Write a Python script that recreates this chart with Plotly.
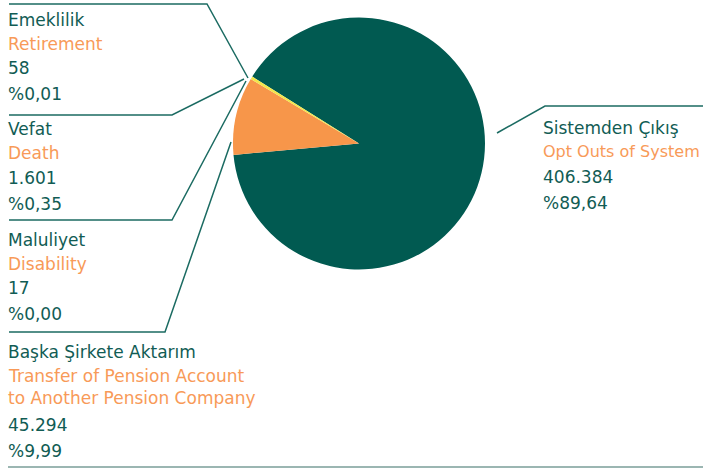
import plotly.graph_objects as go

# ---- data ----
labels_tr = ["Sistemden Çıkış", "Başka Şirkete Aktarım", "Vefat", "Maluliyet", "Emeklilik"]
labels_en = [
    ["Opt Outs of System"],
    ["Transfer of Pension Account", "to Another Pension Company"],
    ["Death"],
    ["Disability"],
    ["Retirement"],
]
values = [406384, 45294, 1601, 17, 58]

total = sum(values)


def fmt_int(v):
    return f"{v:,}".replace(",", ".")


def fmt_pct(v):
    return "%" + f"{100 * v / total:.2f}".replace(".", ",")


value_text = [fmt_int(v) for v in values]
pct_text = [fmt_pct(v) for v in values]

# ---- style / layout ----
W, H = 703, 468
GREEN = "#015a51"
ORANGE = "#f7964a"
TXT_GREEN = "#115c54"
TXT_ORANGE = "#f89a58"
LINE = "#1b6b62"
slice_colors = [GREEN, ORANGE, "#f3e64a", "#e8d840", "#f0e050"]

cx, cy, r = 359, 143.5, 126


def px(x):
    return x / W


def py(y):
    return 1 - y / H


fig = go.Figure()
fig.add_trace(go.Pie(
    labels=labels_tr,
    values=values,
    sort=False,
    direction="clockwise",
    rotation=302.1,
    marker=dict(colors=slice_colors, line=dict(width=0)),
    textinfo="none",
    hoverinfo="label+value+percent",
    showlegend=False,
    domain=dict(x=[px(cx - r), px(cx + r)], y=[py(cy + r), py(cy - r)]),
))

# label block anchor (x, y of first line) per slice, in pixels
block_pos = [(541, 128), (6, 352), (6, 129), (6, 240), (6, 20)]
# English line font size per block (right block is narrower to fit)
en_size = [16, 17, 17, 17, 17]
# gap after English lines before the value line
val_gap = [25, 27, 25, 24, 24]
# leader line paths per slice, in pixels
leaders = [
    [(497, 133), (545, 106), (703, 106)],
    [(231, 142), (165, 332), (9, 332)],
    [(244, 79), (172, 115), (9, 115)],
    [(246, 81), (172, 220), (9, 220)],
    [(248, 78), (207, 4), (9, 4)],
]

FONT = "DejaVu Sans"
FS = 17
annotations = []
shapes = []
for i in range(len(values)):
    x0, y0 = block_pos[i]
    lines = [(labels_tr[i], TXT_GREEN, 0, FS)]
    y = 0
    for en in labels_en[i]:
        y += 24 if y == 0 else 22
        lines.append((en, TXT_ORANGE, y, en_size[i]))
    y += val_gap[i]
    lines.append((value_text[i], TXT_GREEN, y, FS))
    y += 26
    lines.append((pct_text[i], TXT_GREEN, y, FS))
    for text, col, dy, fs in lines:
        annotations.append(dict(
            x=px(x0), y=py(y0 + dy), xref="paper", yref="paper",
            text=text, showarrow=False, xanchor="left", yanchor="middle",
            font=dict(family=FONT, size=fs, color=col),
        ))
    pts = leaders[i]
    path = "M " + " L ".join(f"{px(a)},{py(b)}" for a, b in pts)
    shapes.append(dict(type="path", path=path, xref="paper", yref="paper",
                       line=dict(color=LINE, width=1.5)))

# bottom rule
shapes.append(dict(type="line", x0=px(8), x1=px(703), y0=py(467), y1=py(467),
                   xref="paper", yref="paper", line=dict(color="#7a9e98", width=1.5)))

fig.update_layout(
    width=W, height=H, autosize=False,
    margin=dict(l=0, r=0, t=0, b=0),
    paper_bgcolor="white", plot_bgcolor="white",
    annotations=annotations, shapes=shapes,
)

fig.write_html(
    "out.html",
    config={"displayModeBar": False},
    post_script="document.body.style.margin='0';document.body.style.overflow='hidden';",
)
